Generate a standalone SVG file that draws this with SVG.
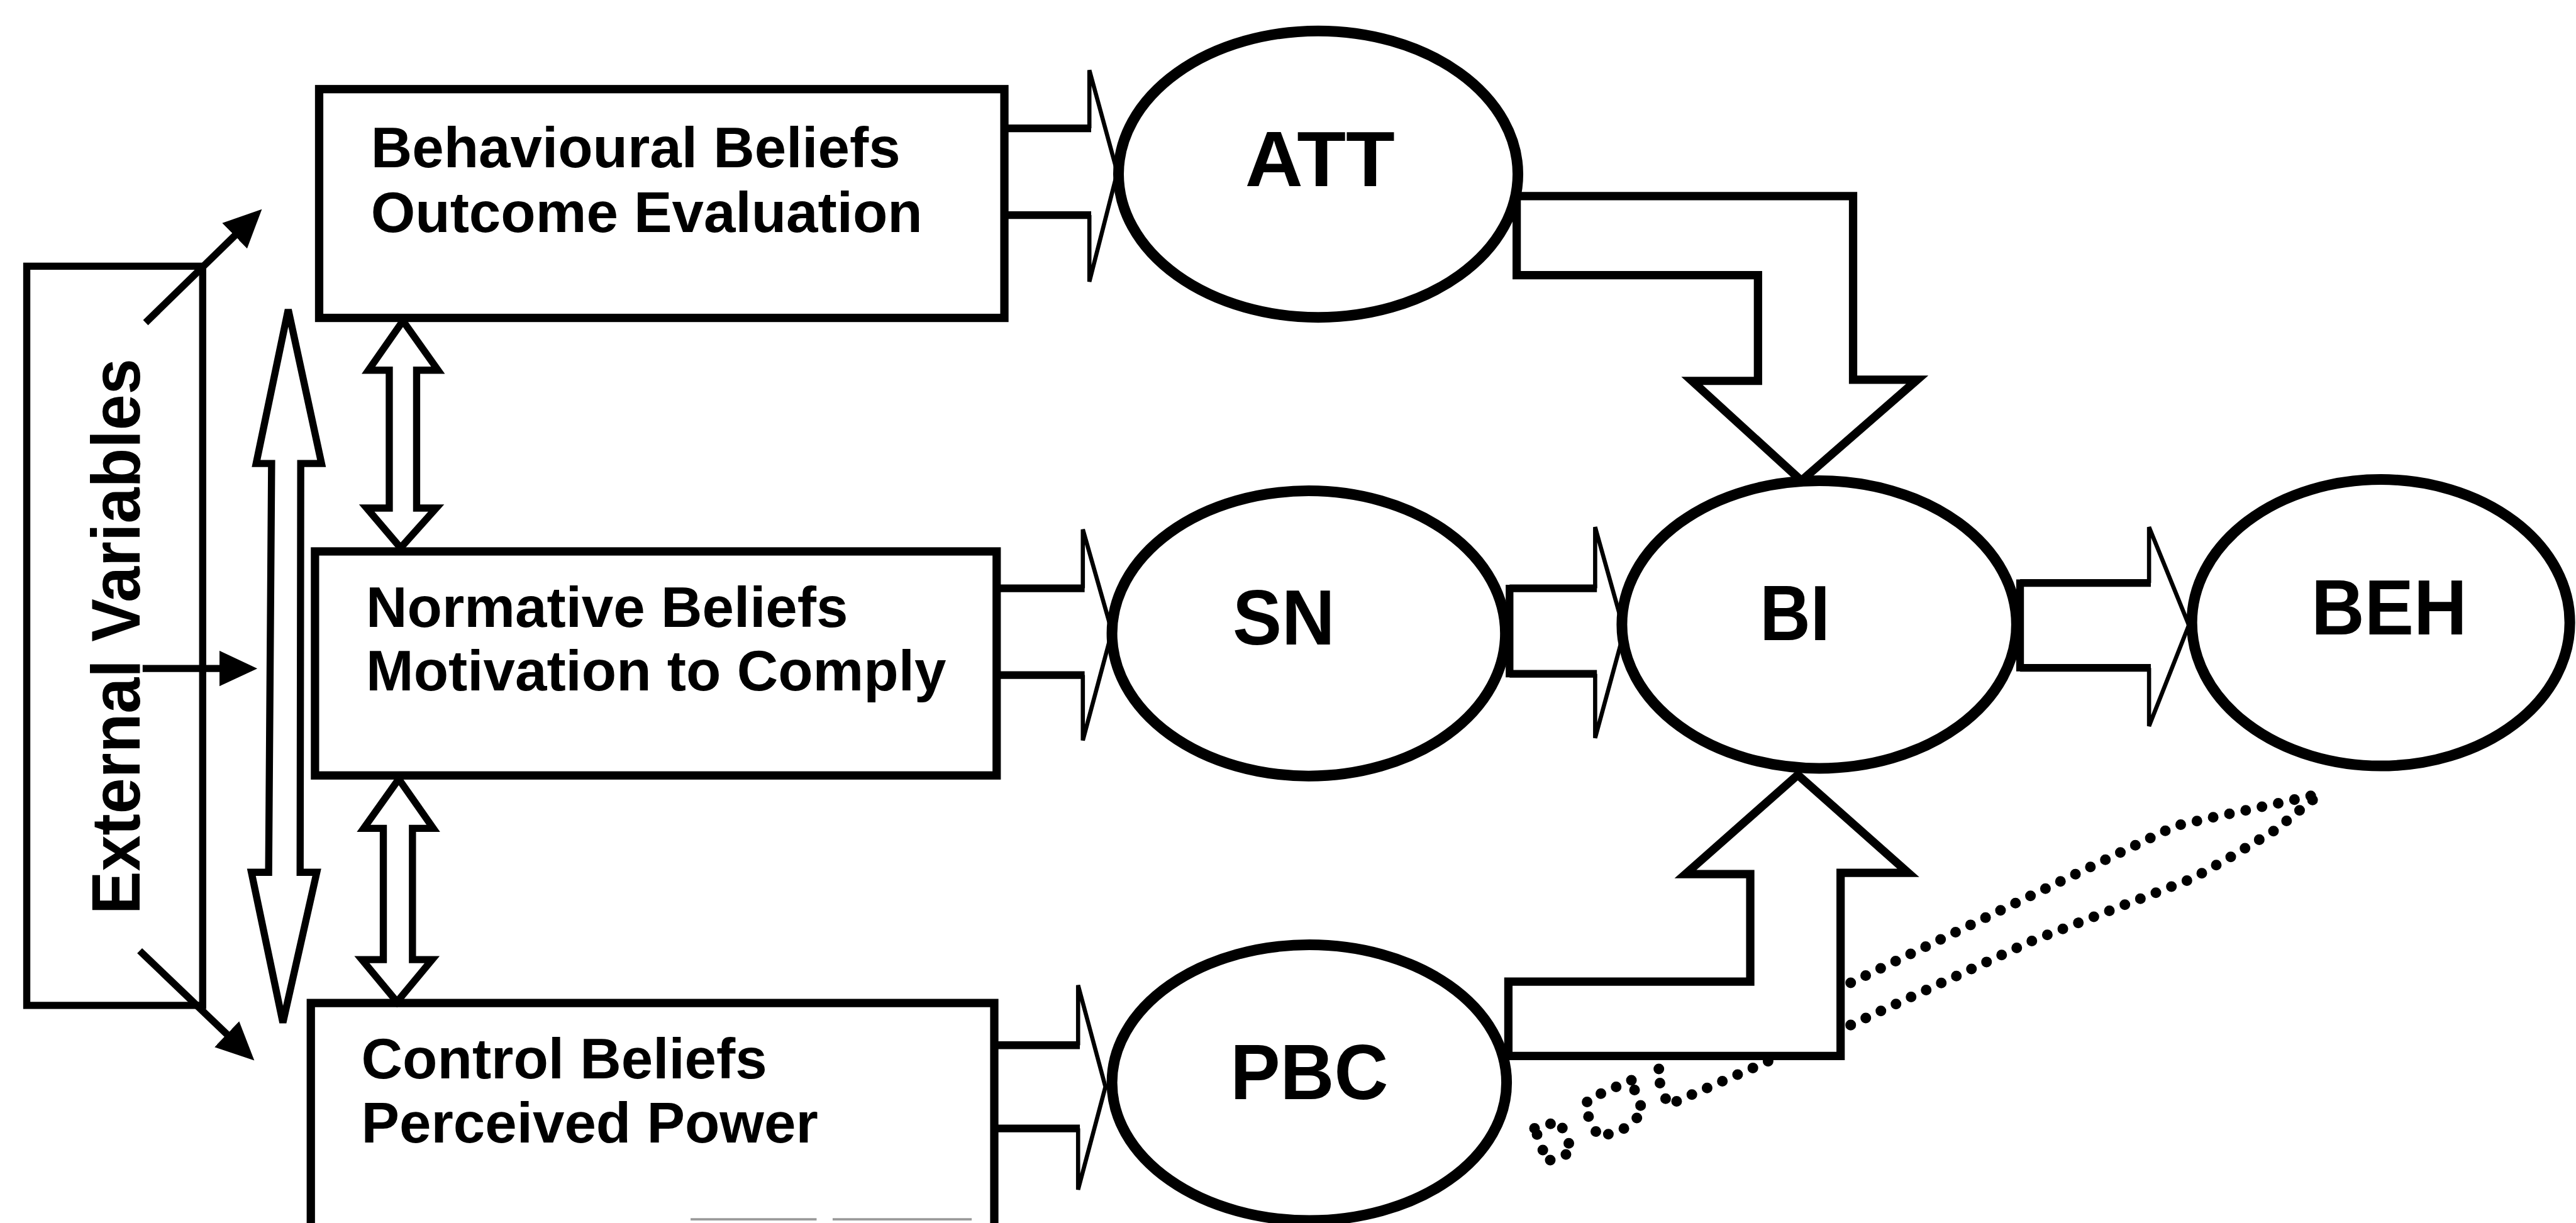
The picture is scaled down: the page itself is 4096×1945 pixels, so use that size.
<svg xmlns="http://www.w3.org/2000/svg" width="4096" height="1945" viewBox="0 0 4096 1945">
  <style>
    .box { fill: #fff; stroke: #000; stroke-width: 14; }
    .oval { fill: #fff; stroke: #000; stroke-width: 18; }
    .txt { font-family: "Liberation Sans", Arial, Helvetica, sans-serif; font-weight: bold; fill: #000; }
    .blabel { font-size: 96px; }
    .olabel { font-size: 132px; text-anchor: middle; }
    .shaft { fill: none; stroke: #000; stroke-width: 13; }
    .head { fill: none; stroke: #000; stroke-width: 7; stroke-linejoin: miter; }
    .block { fill: #fff; stroke: #000; stroke-width: 14; stroke-linejoin: miter; }
    .dbl { fill: #fff; stroke: #000; stroke-width: 12; stroke-linejoin: miter; }
    .thin { fill: none; stroke: #000; stroke-width: 12; marker-end: url(#tri); }
    .dots { fill: none; stroke: #000; stroke-width: 18; stroke-linecap: round; stroke-dasharray: 0 28; }
    .scan { fill: none; stroke: #9a9a9a; stroke-width: 4; }
  </style>
  <defs>
    <marker id="tri" markerUnits="userSpaceOnUse" markerWidth="70" markerHeight="64" refX="24" refY="30" orient="auto">
      <path d="M0,0 L64,30 L0,60 Z" fill="#000"/>
    </marker>
  </defs>

  <rect x="0" y="0" width="4096" height="1945" fill="#fff"/>

  <g transform="scale(0.945)">
    <!-- external variables -->
    <g id="external">
      <rect class="box" x="45" y="448" width="296" height="1244" style="stroke-width:12"/>
      <text class="txt" transform="translate(235,1071) rotate(-90)" text-anchor="middle" font-size="116" textLength="935" lengthAdjust="spacingAndGlyphs">External Variables</text>
    </g>

    <!-- belief boxes -->
    <g id="behavioural">
      <rect class="box" x="537" y="150" width="1153" height="385"/>
      <text class="txt blabel" x="624" y="282">Behavioural Beliefs</text>
      <text class="txt blabel" x="624" y="391">Outcome Evaluation</text>
    </g>
    <g id="normative">
      <rect class="box" x="530" y="928" width="1147" height="377"/>
      <text class="txt blabel" x="616" y="1055">Normative Beliefs</text>
      <text class="txt blabel" x="616" y="1162">Motivation to Comply</text>
    </g>
    <g id="control">
      <rect class="box" x="523" y="1688" width="1150" height="420"/>
      <text class="txt blabel" x="608" y="1815">Control Beliefs</text>
      <text class="txt blabel" x="608" y="1923">Perceived Power</text>
    </g>

    <!-- constructs -->
    <g id="att">
      <ellipse class="oval" cx="2218" cy="293" rx="336" ry="241"/>
      <text class="txt olabel" x="2221" y="313" textLength="252" lengthAdjust="spacingAndGlyphs">ATT</text>
    </g>
    <g id="sn">
      <ellipse class="oval" cx="2202" cy="1066" rx="331" ry="240"/>
      <text class="txt olabel" x="2160" y="1085" textLength="172" lengthAdjust="spacingAndGlyphs">SN</text>
    </g>
    <g id="pbc">
      <ellipse class="oval" cx="2203" cy="1822" rx="332" ry="232"/>
      <text class="txt olabel" x="2203" y="1850" textLength="266" lengthAdjust="spacingAndGlyphs">PBC</text>
    </g>
    <g id="bi">
      <ellipse class="oval" cx="3061" cy="1051" rx="332" ry="242"/>
      <text class="txt olabel" x="3020" y="1077" textLength="118" lengthAdjust="spacingAndGlyphs">BI</text>
    </g>
    <g id="beh">
      <ellipse class="oval" cx="4006" cy="1048" rx="318" ry="241"/>
      <text class="txt olabel" x="4020" y="1068" textLength="262" lengthAdjust="spacingAndGlyphs">BEH</text>
    </g>

    <g id="connectors">
      <!-- dotted trace running from PBC towards BEH -->
      <path class="dots" d="M3114,1654 L3660,1390 L3726,1375 L3828,1353 L3899,1337"/>
      <path class="dots" d="M3114,1725 L3420,1583 L3690,1478 L3757,1440 L3828,1397 L3899,1340"/>
      <path class="dots" d="M2975,1786 L2806,1860 L2797,1831 L2785,1806 L2799,1790"/>
      <path class="dots" d="M2745,1818 L2674,1849 L2665,1863 L2690,1914 L2730,1901 L2766,1872 L2755,1849 Z"/>
      <path class="dots" d="M2582,1899 L2624,1887 L2646,1939 L2601,1955 L2594,1928 Z"/>

      <!-- external variables to the belief boxes -->
      <line class="thin" x1="245" y1="543" x2="412" y2="380"/>
      <line class="thin" x1="240" y1="1125" x2="393" y2="1125"/>
      <line class="thin" x1="235" y1="1600" x2="399" y2="1757"/>

      <!-- two-headed arrows between the belief boxes -->
      <polygon class="dbl" points="485,521 541,780 506,780 505,1468 533,1468 476,1721 423,1468 452,1468 457,780 431,780"/>
      <polygon class="dbl" points="678,540 737,623 701,623 701,855 734,855 674,922 617,855 655,855 655,623 620,623"/>
      <polygon class="dbl" points="671,1311 729,1394 694,1394 694,1615 727,1615 668,1686 609,1615 645,1615 645,1394 612,1394"/>

      <!-- belief boxes to constructs -->
      <path class="shaft" d="M1690,216 H1836 M1690,362 H1836"/>
      <path class="head" d="M1833,216 V118 L1880,290 L1833,474 V362"/>
      <path class="shaft" d="M1677,990 H1825 M1677,1136 H1825"/>
      <path class="head" d="M1822,990 V891 L1871,1063 L1822,1246 V1136"/>
      <path class="shaft" d="M1673,1759 H1817 M1673,1899 H1817"/>
      <path class="head" d="M1814,1759 V1658 L1860,1829 L1814,2002 V1899"/>

      <!-- SN to BI -->
      <path class="shaft" d="M2540,990 H2687 M2540,1134 H2687 M2540,984 V1140"/>
      <path class="head" d="M2684,990 V887 L2733,1062 L2684,1242 V1134"/>

      <!-- BI to BEH -->
      <path class="shaft" d="M3399,981 H3619 M3399,1124 H3619 M3399,975 V1130"/>
      <path class="head" d="M3616,981 V887 L3683,1052 L3616,1222 V1124"/>

      <!-- ATT to BI -->
      <path class="block" d="M2552,330 H3118 V639 H3226 L3031,809 L2847,641 H2958 V463 H2552 Z"/>
      <!-- PBC to BI -->
      <path class="block" d="M2538,1652 H2945 V1471 H2836 L3025,1304 L3211,1469 H3097 V1777 H2538 Z"/>
    </g>

    <!-- marks cut off at the lower edge -->
    <path class="scan" d="M1162,2052 H1374 M1401,2052 H1635"/>
  </g>
</svg>
